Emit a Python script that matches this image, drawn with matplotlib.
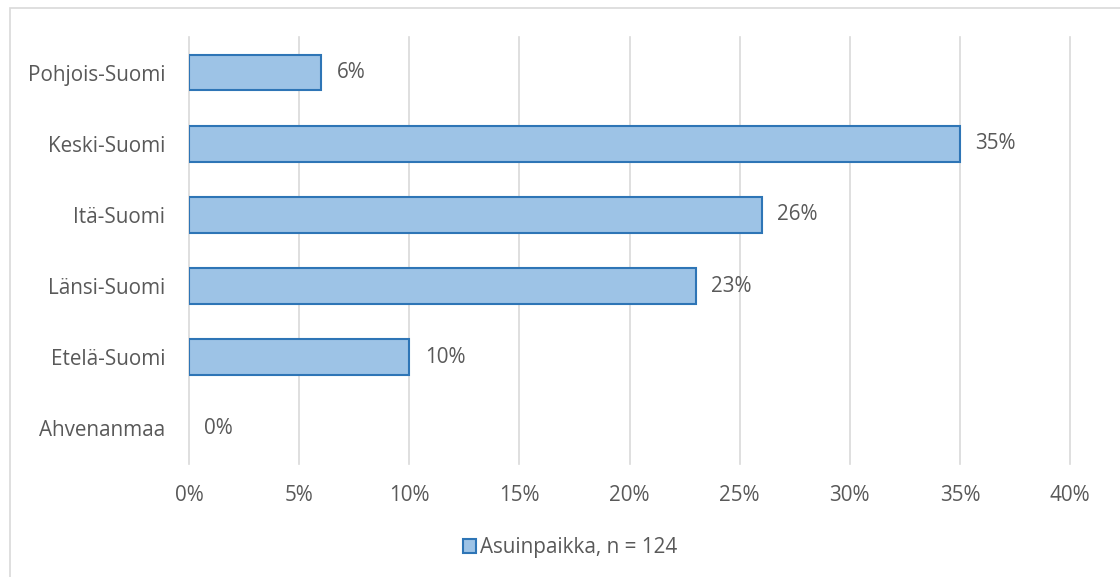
import matplotlib
matplotlib.use("Agg")
import matplotlib.pyplot as plt
from matplotlib.patches import Rectangle, Patch
from matplotlib.ticker import FuncFormatter, MultipleLocator

categories = ["Pohjois-Suomi", "Keski-Suomi", "Itä-Suomi", "Länsi-Suomi", "Etelä-Suomi", "Ahvenanmaa"]
values = [6, 35, 26, 23, 10, 0]
labels = ["6%", "35%", "26%", "23%", "10%", "0%"]
series_name = "Asuinpaikka, n = 124"

plt.rcParams['font.family'] = ['Open Sans', 'DejaVu Sans']
txt = "#595959"
fs = 14.9
fig = plt.figure(figsize=(11.2, 5.77), dpi=100)
ax = fig.add_axes([189/1120, 1 - 464/577, (1070 - 189)/1120, (464 - 37)/577])

ypos = list(range(len(categories)))[::-1]
bars = ax.barh(ypos, values, height=0.5, color="#9DC3E6", edgecolor="#2E75B6", linewidth=1.5, zorder=3)
for b, v in zip(bars, values):
    if v == 0:
        b.set_linewidth(0)
for y, v, l in zip(ypos, values, labels):
    ax.text(v + 0.7, y, l, va="center", ha="left", fontsize=fs, color=txt)

ax.set_xlim(0, 40)
ax.set_ylim(-0.5, len(categories) - 0.5)
ax.xaxis.set_major_locator(MultipleLocator(5))
ax.xaxis.set_major_formatter(FuncFormatter(lambda x, p: f"{x:.0f}%"))
ax.set_yticks(ypos)
ax.set_yticklabels(categories)
ax.tick_params(axis="both", length=0, labelsize=fs, labelcolor=txt)
ax.tick_params(axis="x", pad=15)
ax.tick_params(axis="y", pad=17)
ax.grid(axis="x", color="#D9D9D9", linewidth=1.2, zorder=0)
for gl in ax.get_xgridlines():
    gl.set_clip_on(False)
for s in ax.spines.values():
    s.set_visible(False)

leg = fig.legend(handles=[Patch(facecolor="#9DC3E6", edgecolor="#2E75B6", linewidth=1.5, label=series_name)],
                 loc="center", bbox_to_anchor=(570/1120, 1 - 548/577), frameon=False,
                 fontsize=fs, handlelength=0.65, handleheight=0.65, handletextpad=0.2)
for t in leg.get_texts():
    t.set_color(txt)

fig.patches.append(Rectangle((10/1120, -0.05), 1.1, 1.05 - 8/577, transform=fig.transFigure,
                             fill=False, edgecolor="#D9D9D9", linewidth=1.2))
fig.savefig("out.png", dpi=100)
